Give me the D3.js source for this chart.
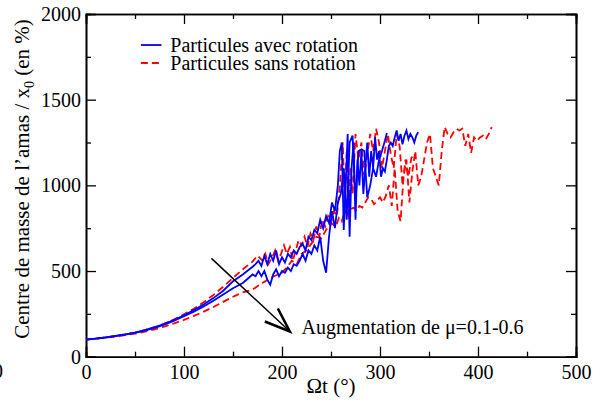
<!DOCTYPE html>
<html><head><meta charset="utf-8">
<script src="https://cdn.jsdelivr.net/npm/d3@7"></script>
<style>body{margin:0;background:#fff}svg{display:block}svg text{font-family:"Liberation Serif","Times New Roman",Times,serif !important}</style>
</head><body><svg id="c" width="596" height="401"></svg>
<script>
// ---- data ----
const xTicks = [0,100,200,300,400,500];
const yTicks = [0,500,1000,1500,2000];
const legendLabels = ["Particules avec rotation","Particules sans rotation"];
const annotation = "Augmentation de \u03bc=0.1-0.6";

const blueAx = [0,10,20,30,40,50,60,70,80,90,100,110,120,130,140,150,160,170,173,176,179,182,185,188,191,194,197,200,203,206,209,212,215,218,221,224,227,230,233,236,239,242,245,248,251,254,257,259,261,263,265,267,269,271,273,275,277,279,281,283,285,287,289,291,293,295,297,299,301,303,305,307,309,311,313,315,317,319,321,323,325,327,329,331,333,335,337,339];
const blueAy = [100,106,113,121,130,141,155,172,192,215,242,272,305,342,385,440,480,525,540,560,530,590,540,600,560,620,540,580,550,600,580,620,600,640,660,620,700,680,740,720,800,750,820,780,900,850,1000,1200,1250,740,1000,1300,700,1100,1250,800,1150,1000,1200,950,1100,1250,1050,1200,1100,1280,1150,1200,1050,1100,1080,1150,1230,1250,1230,1280,1320,1260,1300,1240,1290,1320,1270,1300,1280,1250,1290,1310];

const blueBx = [0,10,20,30,40,50,60,70,80,90,100,110,120,130,140,150,160,165,170,173,176,179,182,185,188,191,194,197,200,203,206,209,212,215,218,221,224,227,230,233,236,239,242,245,248,251,254,257,260,263,266,269,272,275,278,281,284,287,290,293,296,299,302,305,307];
const blueBy = [100,106,112,120,129,139,152,168,187,210,236,263,293,327,363,400,430,455,480,470,500,470,500,450,420,480,510,470,500,490,520,500,540,530,560,600,560,620,600,650,620,700,560,490,700,850,750,900,950,1100,800,1250,1290,900,1200,1210,1200,930,1000,1100,1050,1150,1200,1260,1305];

const redAx = [0,10,20,30,40,50,60,70,80,90,100,110,120,130,140,150,160,170,175,180,183,186,190,193,196,199,202,205,208,211,214,217,220,223,226,229,232,235,238,241,244,247,250,253,256,259,262,264,266,268,270,272,275,278,281,284,287,290,293,296,299,302,305,308,311,314,317,320,323,326,329,332,335];
const redAy = [100,106,113,121,130,141,155,172,193,218,247,280,318,360,408,460,510,555,590,560,600,540,580,620,560,600,650,600,640,560,620,680,650,700,640,720,680,760,700,800,760,820,780,850,820,1000,1250,900,1200,800,1100,950,1300,1150,1250,1050,1180,1300,1200,1330,1250,1100,1200,1300,1180,1100,1300,1230,1000,1150,1050,1160,1180];

const redBx = [0,10,20,30,40,50,60,70,80,90,100,110,120,130,140,150,160,170,180,190,200,205,210,215,220,225,230,235,240,245,250,255,258,261,264,267,270,273,276,279,282,285,288,291,294,297,300,303,306,309,312,315,318,321,324,327,330,333,336,339,342,345,348,351,354,357,360,363,366,369,372,375,378,381,384,387,390,393,396,399,402,405,408,411,414];
const redBy = [100,105,111,118,126,135,146,160,176,195,215,238,263,290,320,350,375,392,430,465,490,520,560,540,600,620,660,700,690,740,780,760,810,790,850,830,860,870,850,880,870,900,930,920,890,910,930,900,940,1000,880,1100,850,790,1050,1150,900,1080,1200,1000,1050,1150,1250,1300,1100,1050,1000,1200,1340,1300,1280,1310,1330,1320,1330,1230,1300,1190,1280,1260,1280,1290,1270,1300,1340];

// ---- layout ----
const FONT = '"Liberation Serif","Times New Roman",Times,serif';
const svg = d3.select("#c");
const x = d3.scaleLinear().domain([0,500]).range([86,576]);
const y = d3.scaleLinear().domain([0,2000]).range([356.7,14]);

const fs = 20;
svg.append("g").attr("transform",`translate(0,${y(0)})`)
  .call(d3.axisBottom(x).tickValues(xTicks).tickSize(-10).tickPadding(8).tickFormat(d3.format("d")));
svg.append("g").attr("transform",`translate(0,${y(0)})`).call(d3.axisBottom(x).tickValues(d3.range(50,500,100)).tickSize(-5).tickFormat(""));
svg.append("g").attr("transform",`translate(0,${y(2000)})`).call(d3.axisTop(x).tickValues(xTicks).tickSize(-10).tickFormat(""));
svg.append("g").attr("transform",`translate(0,${y(2000)})`).call(d3.axisTop(x).tickValues(d3.range(50,500,100)).tickSize(-5).tickFormat(""));
svg.append("g").attr("transform",`translate(${x(0)},0)`)
  .call(d3.axisLeft(y).tickValues(yTicks).tickSize(-10).tickPadding(5).tickFormat(d3.format("d")));
svg.append("g").attr("transform",`translate(${x(0)},0)`).call(d3.axisLeft(y).tickValues(d3.range(250,2000,500)).tickSize(-5).tickFormat(""));
svg.append("g").attr("transform",`translate(${x(500)},0)`).call(d3.axisRight(y).tickValues(yTicks).tickSize(-10).tickFormat(""));
svg.append("g").attr("transform",`translate(${x(500)},0)`).call(d3.axisRight(y).tickValues(d3.range(250,2000,500)).tickSize(-5).tickFormat(""));

svg.selectAll("g").attr("font-family",FONT);
svg.selectAll(".domain").attr("stroke","#000").attr("stroke-width",1.6);
svg.selectAll(".tick line").attr("stroke","#000").attr("stroke-width",1.3);
svg.selectAll(".tick text").attr("font-size",fs).attr("fill","#000");

// clipped label at left edge (as in reference)
svg.append("text").attr("x",3).attr("y",y(0)+21).attr("text-anchor","end")
  .attr("font-family",FONT).attr("font-size",fs).text("0");

const line = (xs,ys)=>d3.line().x((d,i)=>x(xs[i])).y((d,i)=>y(ys[i]))(ys);
const series = [
  {xs:redBx, ys:redBy, c:"#ff0000", dash:"7,4"},
  {xs:redAx, ys:redAy, c:"#ff0000", dash:"7,4"},
  {xs:blueBx, ys:blueBy, c:"#0000ff", dash:null},
  {xs:blueAx, ys:blueAy, c:"#0000ff", dash:null}
];
series.forEach(s=>{
  svg.append("path").attr("d",line(s.xs,s.ys)).attr("fill","none")
    .attr("stroke",s.c).attr("stroke-width",1.8).attr("stroke-dasharray",s.dash);
});

const leg = [{c:"#0000ff",dash:null,yv:1819},{c:"#ff0000",dash:"7,4",yv:1714}];
leg.forEach((l,i)=>{
  svg.append("line").attr("x1",x(56)).attr("x2",x(77)).attr("y1",y(l.yv)).attr("y2",y(l.yv))
    .attr("stroke",l.c).attr("stroke-width",1.8).attr("stroke-dasharray",l.dash);
  svg.append("text").attr("x",x(86)).attr("y",y(l.yv)+7).attr("font-family",FONT).attr("font-size",20).text(legendLabels[i]);
});

const a0 = [128,574], a1 = [208,147];
svg.append("line").attr("x1",x(a0[0])).attr("y1",y(a0[1])).attr("x2",x(a1[0])).attr("y2",y(a1[1]))
  .attr("stroke","#000").attr("stroke-width",1.5);
const tip = [x(a1[0]),y(a1[1])];
svg.append("path").attr("d",`M${tip[0]-25},${tip[1]-10} L${tip[0]},${tip[1]} L${tip[0]-12},${tip[1]-23}`)
  .attr("fill","none").attr("stroke","#000").attr("stroke-width",2.6);

svg.append("text").attr("x",x(220)).attr("y",y(132)).attr("font-family",FONT).attr("font-size",20).text(annotation);

svg.append("text").attr("x",331).attr("y",393).attr("text-anchor","middle").attr("font-family",FONT).attr("font-size",21).text("\u03a9t (\u00b0)");
const yt = svg.append("text").attr("transform","translate(29,179) rotate(-90)").attr("text-anchor","middle")
  .attr("font-family",FONT).attr("font-size",21);
yt.append("tspan").text("Centre de masse de l\u2019amas / x");
yt.append("tspan").attr("dy",5).attr("font-size",14).text("0");
yt.append("tspan").attr("dy",-5).text(" (en %)");
</script></body></html>
